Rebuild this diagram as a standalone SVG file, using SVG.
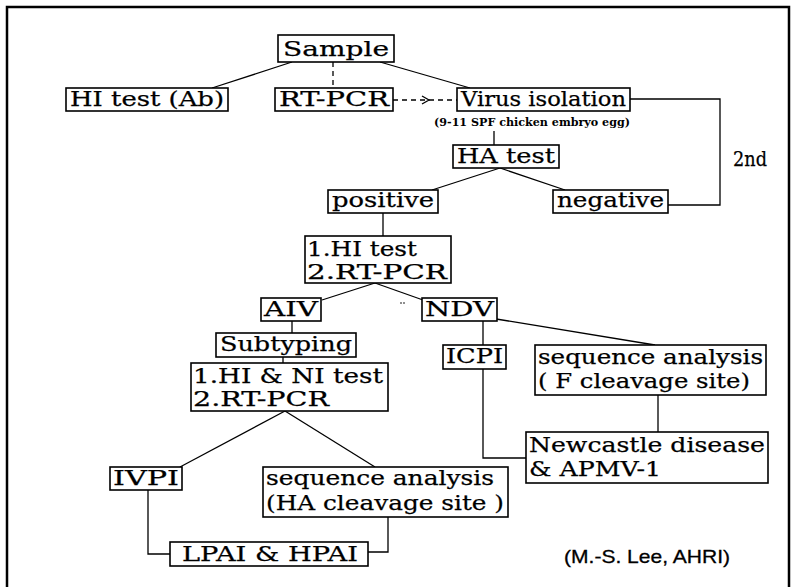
<svg xmlns="http://www.w3.org/2000/svg" width="793" height="587" viewBox="0 0 793 587">
<style>
.b{fill:#fff;stroke:#000;stroke-width:1.6}
.t{font-family:"DejaVu Serif","Liberation Serif",serif;font-size:20.5px;fill:#000;stroke:#000;stroke-width:0.25}
.c{fill:none;stroke:#000;stroke-width:1.3}
.d{fill:none;stroke:#000;stroke-width:1.3;stroke-dasharray:5 4}
</style>
<rect x="0" y="0" width="793" height="587" fill="#fff"/>
<path d="M7 587 V7 H789 V587" fill="none" stroke="#000" stroke-width="2.5"/>
<g id="connectors">
<path class="c" d="M292 62 L212 88"/>
<path class="d" d="M333 62 V88"/>
<path class="c" d="M380 62 L470 88"/>
<path class="d" d="M393 100 H457"/>
<path class="c" d="M422 96 L429 100 L422 104"/>
<path class="c" d="M630 99 H720 V205 H668"/>
<path class="c" d="M494 131 V145"/>
<path class="c" d="M500 168 L432 190"/>
<path class="c" d="M500 168 L565 190"/>
<path class="c" d="M383 213 V236"/>
<path class="c" d="M375 283 L322 300"/>
<path class="c" d="M375 283 L423 300"/>
<path class="c" d="M292 321 V333"/>
<path class="c" d="M283 357 V363"/>
<path class="c" d="M483 321 V345"/>
<path class="c" d="M490 318 L655 345"/>
<path class="c" d="M483 369 V458 H526"/>
<path class="c" d="M658 395 V432"/>
<path class="c" d="M285 411 L180 467"/>
<path class="c" d="M285 411 L375 467"/>
<path class="c" d="M148 490 V554 H170"/>
<path class="c" d="M388 517 V552 H368"/>
</g>
<g id="sample"><rect class="b" x="278" y="35" width="116" height="27"/><text class="t" x="283" y="56" font-size="24" textLength="106" lengthAdjust="spacingAndGlyphs">Sample</text></g>
<g id="hi-test-ab"><rect class="b" x="66" y="88" width="162" height="23"/><text class="t" x="70" y="106" textLength="154" lengthAdjust="spacingAndGlyphs">HI test (Ab)</text></g>
<g id="rt-pcr"><rect class="b" x="275" y="88" width="118" height="23"/><text class="t" x="279" y="106" textLength="110" lengthAdjust="spacingAndGlyphs">RT-PCR</text></g>
<g id="virus-isolation"><rect class="b" x="457" y="88" width="173" height="23"/><text class="t" x="461" y="106" textLength="165" lengthAdjust="spacingAndGlyphs">Virus isolation</text>
<text x="532" y="126" font-family="DejaVu Serif, serif" font-size="10.5" font-weight="bold" text-anchor="middle" textLength="196" lengthAdjust="spacingAndGlyphs">(9-11 SPF chicken embryo egg)</text></g>
<g id="ha-test"><rect class="b" x="453" y="145" width="106" height="23"/><text class="t" x="457" y="163" textLength="98" lengthAdjust="spacingAndGlyphs">HA test</text></g>
<g id="second"><text class="t" x="733" y="166" font-size="17" textLength="34" lengthAdjust="spacingAndGlyphs">2nd</text></g>
<g id="positive"><rect class="b" x="328" y="190" width="110" height="23"/><text class="t" x="332" y="207" textLength="102" lengthAdjust="spacingAndGlyphs">positive</text></g>
<g id="negative"><rect class="b" x="553" y="190" width="115" height="23"/><text class="t" x="557" y="207" textLength="107" lengthAdjust="spacingAndGlyphs">negative</text></g>
<g id="hi-rtpcr"><rect class="b" x="305" y="236" width="146" height="47"/><text class="t" x="307" y="256" textLength="110" lengthAdjust="spacingAndGlyphs">1.HI test</text><text class="t" x="307" y="279" textLength="140" lengthAdjust="spacingAndGlyphs">2.RT-PCR</text></g>
<g id="aiv"><rect class="b" x="261" y="298" width="60" height="23"/><text class="t" x="264" y="316" textLength="54" lengthAdjust="spacingAndGlyphs">AIV</text></g>
<g id="mark"><circle cx="401" cy="303" r="0.8"/><circle cx="404" cy="303" r="0.8"/></g>
<g id="ndv"><rect class="b" x="422" y="298" width="75" height="23"/><text class="t" x="425" y="316" textLength="69" lengthAdjust="spacingAndGlyphs">NDV</text></g>
<g id="subtyping"><rect class="b" x="216" y="333" width="140" height="24"/><text class="t" x="220" y="351" textLength="132" lengthAdjust="spacingAndGlyphs">Subtyping</text></g>
<g id="hi-ni"><rect class="b" x="191" y="363" width="197" height="48"/><text class="t" x="193" y="383" textLength="190" lengthAdjust="spacingAndGlyphs">1.HI &amp; NI test</text><text class="t" x="193" y="406" textLength="136" lengthAdjust="spacingAndGlyphs">2.RT-PCR</text></g>
<g id="icpi"><rect class="b" x="443" y="345" width="63" height="24"/><text class="t" x="446" y="363" textLength="57" lengthAdjust="spacingAndGlyphs">ICPI</text></g>
<g id="seq-f"><rect class="b" x="535" y="345" width="231" height="50"/><text class="t" x="538" y="364" textLength="225" lengthAdjust="spacingAndGlyphs">sequence analysis</text><text class="t" x="538" y="388" textLength="212" lengthAdjust="spacingAndGlyphs">( F cleavage site)</text></g>
<g id="newcastle"><rect class="b" x="526" y="432" width="242" height="51"/><text class="t" x="529" y="452" textLength="236" lengthAdjust="spacingAndGlyphs">Newcastle disease</text><text class="t" x="529" y="476" textLength="132" lengthAdjust="spacingAndGlyphs">&amp; APMV-1</text></g>
<g id="ivpi"><rect class="b" x="110" y="467" width="72" height="23"/><text class="t" x="113" y="485" textLength="66" lengthAdjust="spacingAndGlyphs">IVPI</text></g>
<g id="seq-ha"><rect class="b" x="263" y="467" width="245" height="50"/><text class="t" x="266" y="485" textLength="228" lengthAdjust="spacingAndGlyphs">sequence analysis</text><text class="t" x="266" y="510" textLength="238" lengthAdjust="spacingAndGlyphs">(HA cleavage site )</text></g>
<g id="lpai-hpai"><rect class="b" x="170" y="542" width="198" height="24"/><text class="t" x="182" y="561" textLength="176" lengthAdjust="spacingAndGlyphs">LPAI &amp; HPAI</text></g>
<g id="credit"><text x="564" y="563" font-family="Liberation Sans, Arial, sans-serif" font-size="19" stroke="#000" stroke-width="0.3" textLength="166" lengthAdjust="spacingAndGlyphs">(M.-S. Lee, AHRI)</text></g>
</svg>
